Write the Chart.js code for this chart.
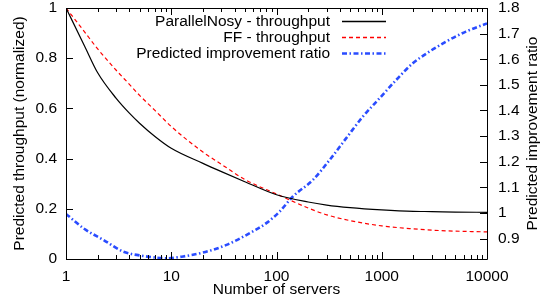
<!DOCTYPE html>
<html>
<head>
<meta charset="utf-8">
<script src="https://cdn.jsdelivr.net/npm/chart.js@4.4.1/dist/chart.umd.min.js"></script>
<style>
    html, body { margin: 0; padding: 0; background: #fff; }
    #wrap { width: 554px; height: 303px; }
</style>
</head>
<body>
<div id="wrap"><canvas id="throughputChart"></canvas></div>
<script>
const servers = [1, 1.5, 2, 3, 4, 5, 7, 10, 20, 30, 50, 100, 200, 300, 500, 1000, 2000, 3000, 5000, 10000];
const nosyThroughput = [1, 0.849, 0.742, 0.64, 0.581, 0.541, 0.488, 0.441, 0.381, 0.348, 0.308, 0.256, 0.227, 0.215, 0.205, 0.196, 0.19, 0.189, 0.187, 0.186];
const ffThroughput = [1, 0.905, 0.837, 0.752, 0.696, 0.652, 0.592, 0.528, 0.426, 0.377, 0.317, 0.259, 0.203, 0.176, 0.153, 0.132, 0.12, 0.115, 0.111, 0.108];
const ratioServers = [1, 1.5, 2.26, 3.5, 5.4, 9, 13, 20, 33.5, 55.7, 80, 107, 143, 222, 320, 460, 661, 955, 1371, 1972, 2840, 4090, 6310, 10000];
const ratioValues = [0.996, 0.937, 0.895, 0.849, 0.832, 0.823, 0.83, 0.845, 0.875, 0.921, 0.96, 1.005, 1.064, 1.129, 1.207, 1.292, 1.376, 1.448, 1.519, 1.584, 1.63, 1.669, 1.708, 1.74];

const xTicks = [1, 10, 100, 1000, 10000];
const yTicks = [0, 0.2, 0.4, 0.6, 0.8, 1];
const y2Ticks = [0.9, 1, 1.1, 1.2, 1.3, 1.4, 1.5, 1.6, 1.7, 1.8];

const FONT = "'Liberation Sans', Arial, sans-serif";
const FONT_SIZE = 15.5;
const NOSY_COLOR = "#000000";
const FF_COLOR = "#ff0000";
const RATIO_COLOR = "#2a4cff";

const pairs = (xs, ys) => xs.map((x, i) => ({ x: x, y: ys[i] }));

const noEdgePadding = (scale) => {
    scale.paddingTop = 0;
    scale.paddingBottom = 0;
    scale.paddingLeft = 0;
    scale.paddingRight = 0;
};

// gnuplot style border, inward ticks, titles and key
const gnuplotFrame = {
    id: "gnuplotFrame",
    afterDraw(chart) {
        const ctx = chart.ctx;
        const a = chart.chartArea;
        const sx = chart.scales.x;
        const sy = chart.scales.y;
        const sy2 = chart.scales.y2;
        ctx.save();
        ctx.strokeStyle = "#000";
        ctx.lineWidth = 1;
        ctx.beginPath();
        ctx.rect(Math.round(a.left) + 0.5, Math.round(a.top) + 0.5, Math.round(a.right - a.left), Math.round(a.bottom - a.top));
        ctx.stroke();

        ctx.beginPath();
        for (let d = 1; d <= 10000; d *= 10) {
            for (let k = 1; k <= 9; k++) {
                const v = d * k;
                if (v > 10000) break;
                const px = Math.round(sx.getPixelForValue(v)) + 0.5;
                const len = k === 1 ? 7 : 4;
                ctx.moveTo(px, a.bottom);
                ctx.lineTo(px, a.bottom - len);
                ctx.moveTo(px, a.top);
                ctx.lineTo(px, a.top + len);
            }
        }
        yTicks.forEach((v) => {
            const py = Math.round(sy.getPixelForValue(v)) + 0.5;
            ctx.moveTo(a.left, py);
            ctx.lineTo(a.left + 7, py);
        });
        y2Ticks.forEach((v) => {
            const py = Math.round(sy2.getPixelForValue(v)) + 0.5;
            ctx.moveTo(a.right, py);
            ctx.lineTo(a.right - 7, py);
        });
        ctx.stroke();

        ctx.fillStyle = "#000";
        ctx.font = FONT_SIZE + "px " + FONT;
        ctx.textBaseline = "middle";
        ctx.textAlign = "center";
        ctx.fillText("Number of servers", (a.left + a.right) / 2, 290);

        const midY = (a.top + a.bottom) / 2;
        ctx.save();
        ctx.translate(20, midY);
        ctx.rotate(-Math.PI / 2);
        ctx.fillText("Predicted throughput (normalized)", 0, 0);
        ctx.restore();
        ctx.save();
        ctx.translate(533, midY);
        ctx.rotate(-Math.PI / 2);
        ctx.fillText("Predicted improvement ratio", 0, 0);
        ctx.restore();

        // key
        chart.data.datasets.forEach((ds, i) => {
            const y = 21.5 + i * 16;
            ctx.textAlign = "right";
            ctx.fillStyle = "#000";
            ctx.fillText(ds.label, 330, y);
            ctx.beginPath();
            ctx.strokeStyle = ds.keyColor;
            ctx.lineWidth = Math.max(ds.borderWidth, 1.5);
            ctx.setLineDash(ds.borderDash || []);
            ctx.moveTo(342, y);
            ctx.lineTo(386, y);
            ctx.stroke();
            ctx.setLineDash([]);
        });
        ctx.restore();
    }
};

document.addEventListener("DOMContentLoaded", () => {
    const canvas = document.getElementById("throughputChart");
    new Chart(canvas, {
        type: "line",
        data: {
            datasets: [{
                label: "ParallelNosy - throughput",
                data: pairs(servers, nosyThroughput),
                borderColor: NOSY_COLOR,
                keyColor: NOSY_COLOR,
                borderWidth: 1.2,
                pointRadius: 0,
                cubicInterpolationMode: "monotone",
                yAxisID: "y"
            }, {
                label: "FF - throughput",
                data: pairs(servers, ffThroughput),
                borderColor: FF_COLOR,
                keyColor: FF_COLOR,
                borderWidth: 1.2,
                borderDash: [4, 3],
                pointRadius: 0,
                cubicInterpolationMode: "monotone",
                yAxisID: "y"
            }, {
                label: "Predicted improvement ratio",
                data: pairs(ratioServers, ratioValues),
                borderColor: RATIO_COLOR,
                keyColor: RATIO_COLOR,
                borderWidth: 2.6,
                borderDash: [5, 2.5, 1.5, 2.5],
                pointRadius: 0,
                cubicInterpolationMode: "monotone",
                yAxisID: "y2"
            }]
        },
        options: {
            responsive: true,
            maintainAspectRatio: false,
            animation: false,
            events: [],
            layout: { padding: { top: 8, left: 0, right: 0, bottom: 0 } },
            plugins: { legend: { display: false }, tooltip: { enabled: false } },
            scales: {
                x: {
                    type: "logarithmic",
                    min: 1,
                    max: 10000,
                    grid: { display: false, drawTicks: false },
                    border: { display: false },
                    afterBuildTicks: (scale) => { scale.ticks = xTicks.map((v) => ({ value: v, major: true })); },
                    afterFit: (scale) => { scale.height = 44; noEdgePadding(scale); },
                    ticks: {
                        color: "#000",
                        padding: 8,
                        maxRotation: 0,
                        autoSkip: false,
                        font: { family: FONT, size: FONT_SIZE },
                        callback: (v) => String(v)
                    }
                },
                y: {
                    position: "left",
                    min: 0,
                    max: 1,
                    grid: { display: false, drawTicks: false },
                    border: { display: false },
                    afterBuildTicks: (scale) => { scale.ticks = yTicks.map((v) => ({ value: v })); },
                    afterFit: (scale) => { scale.width = 66; noEdgePadding(scale); },
                    ticks: {
                        color: "#000",
                        padding: 9,
                        font: { family: FONT, size: FONT_SIZE },
                        callback: (v) => String(Math.round(v * 10) / 10)
                    }
                },
                y2: {
                    position: "right",
                    min: 0.82,
                    max: 1.8,
                    grid: { display: false, drawTicks: false },
                    border: { display: false },
                    afterBuildTicks: (scale) => { scale.ticks = y2Ticks.map((v) => ({ value: v })); },
                    afterFit: (scale) => { scale.width = 67; noEdgePadding(scale); },
                    ticks: {
                        color: "#000",
                        padding: 11,
                        crossAlign: "near",
                        font: { family: FONT, size: FONT_SIZE },
                        callback: (v) => String(Math.round(v * 10) / 10)
                    }
                }
            }
        },
        plugins: [gnuplotFrame]
    });
});
</script>
</body>
</html>
